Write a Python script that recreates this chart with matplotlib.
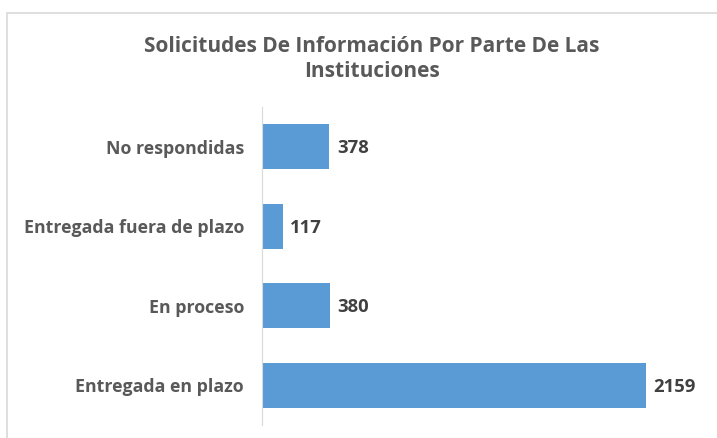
import matplotlib.pyplot as plt
from matplotlib.patches import Rectangle

categories = ['Entregada en plazo', 'En proceso', 'Entregada fuera de plazo', 'No respondidas']
values = [2159, 380, 117, 378]
title = 'Solicitudes De Información Por Parte De Las\nInstituciones'

plt.rcParams['font.family'] = ['Open Sans', 'DejaVu Sans']

fig = plt.figure(figsize=(7.17, 4.38), dpi=100)
fig.patches.append(Rectangle((7 / 717, -0.05), 1.2, 1 - 13 / 438 + 0.05, transform=fig.transFigure,
                             fill=False, edgecolor='#d9d9d9', linewidth=1.2))

ax = fig.add_axes([262 / 717, 13 / 438, 445 / 717, 318 / 438])
y = range(len(categories))
ax.barh(y, values, height=0.56, color='#5b9bd5')
for i, v in zip(y, values):
    ax.text(v + 42, i - 0.02, str(v), va='center', ha='left', fontsize=13.3, fontweight='bold', color='#404040')

ax.set_xlim(0, 2500)
ax.set_ylim(-0.5, 3.5)
ax.set_yticks(list(y))
ax.set_yticklabels(categories, fontsize=12.8, fontweight='bold', color='#595959')
ax.tick_params(axis='y', length=0, pad=13)
ax.set_xticks([])
for s in ['top', 'right', 'bottom']:
    ax.spines[s].set_visible(False)
ax.spines['left'].set_color('#d9d9d9')

fig.text(372 / 717, 1 - 59 / 438, title, ha='center', va='center', fontsize=15,
         fontweight='bold', color='#595959', linespacing=1.25)

fig.savefig('out.png', dpi=100)
